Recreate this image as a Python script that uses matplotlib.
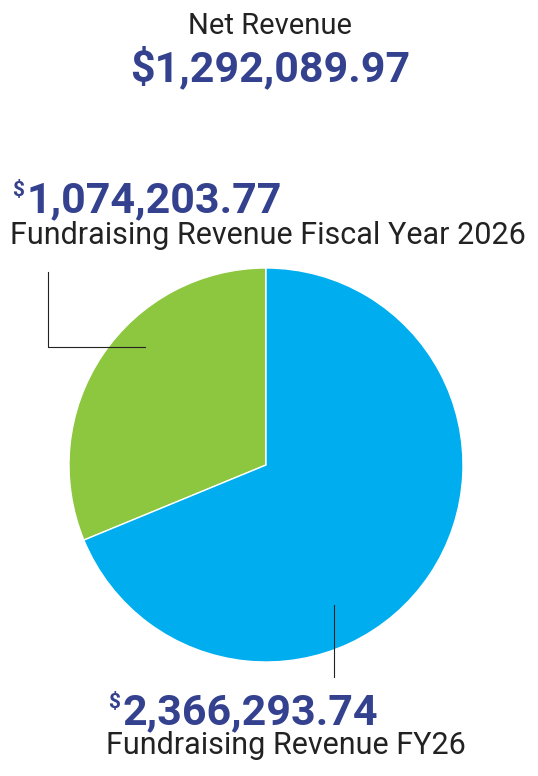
import matplotlib
matplotlib.use("Agg")
import matplotlib.pyplot as plt

labels = ["Fundraising Revenue Fiscal Year 2026", "Fundraising Revenue FY26"]
values = [1074203.77, 2366293.74]
colors = ["#8DC63F", "#00AEEF"]
net_revenue = "$1,292,089.97"
navy = "#34418F"
W, H = 538, 776

plt.rcParams['font.family'] = ['Roboto', 'DejaVu Sans']
fig = plt.figure(figsize=(W/100, H/100), dpi=100)

cx, cy, r = 266, 465, 197
ax = fig.add_axes([(cx-r)/W, 1-(cy+r)/H, 2*r/W, 2*r/H])
ax.pie(values, colors=colors, startangle=90, counterclock=True,
       wedgeprops=dict(edgecolor="white", linewidth=1))
ax.set_xlim(-1, 1); ax.set_ylim(-1, 1); ax.set_aspect('equal'); ax.axis('off')

def T(x, y, s, **kw):
    fig.text(x/W, 1-y/H, s, **kw)

T(270, 26, "Net Revenue", ha='center', va='center', fontsize=21, color='#222222')
T(270, 68, net_revenue, ha='center', va='center', fontsize=31, fontweight='bold', color=navy)

def amount(x, y, v):
    T(x, y-10, "$", ha='left', va='center', fontsize=15, fontweight='bold', color=navy)
    T(x+14, y, f"{v:,.2f}", ha='left', va='center', fontsize=31, fontweight='bold', color=navy)

amount(12, 201, values[0])
T(10, 236, labels[0], ha='left', va='center', fontsize=22, color='#222222')
amount(108, 713, values[1])
T(106, 745, labels[1], ha='left', va='center', fontsize=22, color='#222222')

# leader lines
fig.add_artist(plt.Line2D([48/W, 48/W, 145/W], [1-272/H, 1-347/H, 1-347/H], color='#222222', lw=0.8))
fig.add_artist(plt.Line2D([334/W, 334/W], [1-605/H, 1-677/H], color='#222222', lw=0.8))

fig.savefig("out.png", dpi=100)
